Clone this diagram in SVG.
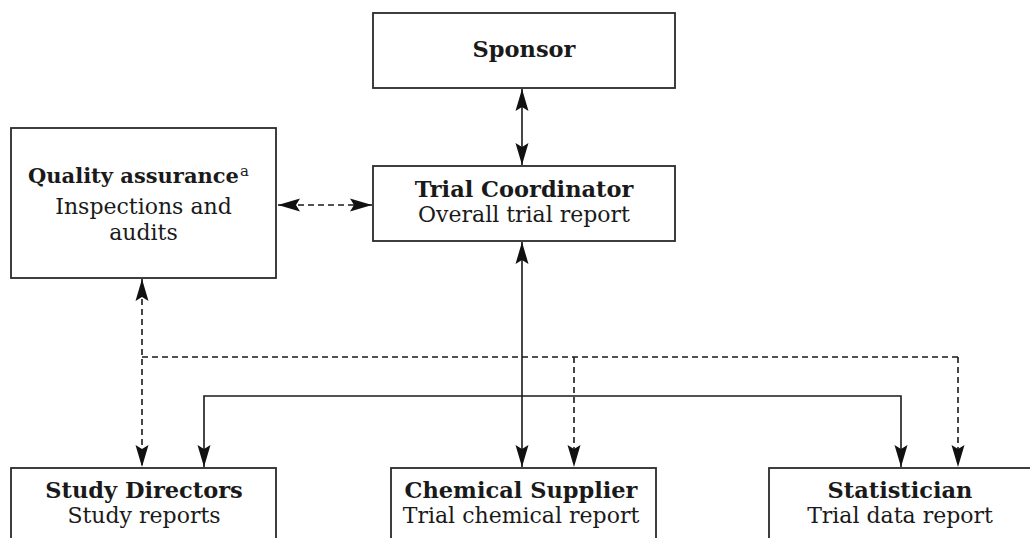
<svg xmlns="http://www.w3.org/2000/svg" width="1030" height="538" viewBox="0 0 1030 538">
<style>
.box{fill:#fff;stroke:#2a2a2a;stroke-width:1.8}
.t{font-family:"DejaVu Serif","Liberation Serif",serif;font-size:22px;fill:#1a1a1a;text-anchor:middle}
.b{font-weight:bold;font-size:22.5px}
.ln{fill:none;stroke:#1a1a1a;stroke-width:1.6}
.d{stroke-dasharray:6,4}
</style>
<defs>
<marker id="ah" markerUnits="userSpaceOnUse" viewBox="-23 -8 24 16" refX="0" refY="0" markerWidth="24" markerHeight="16" orient="auto-start-reverse">
<path d="M0,0 L-22,-6.5 L-18,0 L-22,6.5 Z" fill="#111"/>
</marker>
</defs>
<rect width="1030" height="538" fill="#fff"/>
<g id="connectors">
<line class="ln" x1="522" y1="89" x2="522" y2="165" marker-start="url(#ah)" marker-end="url(#ah)"/>
<line class="ln d" x1="278" y1="205" x2="372" y2="205" marker-start="url(#ah)" marker-end="url(#ah)"/>
<line class="ln d" x1="142" y1="279" x2="142" y2="467" marker-start="url(#ah)" marker-end="url(#ah)"/>
<line class="ln d" x1="142" y1="357" x2="958" y2="357"/>
<line class="ln d" x1="574" y1="357" x2="574" y2="467" marker-end="url(#ah)"/>
<line class="ln d" x1="958" y1="357" x2="958" y2="467" marker-end="url(#ah)"/>
<line class="ln" x1="522" y1="242" x2="522" y2="467" marker-start="url(#ah)" marker-end="url(#ah)"/>
<path class="ln" d="M204,467 L204,396 L901,396 L901,467" marker-start="url(#ah)" marker-end="url(#ah)"/>
</g>
<g id="sponsor">
<rect class="box" x="373" y="13" width="302" height="75"/>
<text class="t b" x="524" y="57">Sponsor</text>
</g>
<g id="trial-coordinator">
<rect class="box" x="373" y="166" width="302" height="75"/>
<text class="t b" x="524" y="197">Trial Coordinator</text>
<text class="t" x="524" y="222">Overall trial report</text>
</g>
<g id="quality-assurance">
<rect class="box" x="11" y="128" width="265" height="150"/>
<text class="t b" x="28" y="183" style="text-anchor:start;font-size:21px">Quality assurance<tspan font-size="15" font-weight="normal" dy="-7" dx="1">a</tspan></text>
<text class="t" x="143.5" y="214">Inspections and</text>
<text class="t" x="143.5" y="240">audits</text>
</g>
<g id="study-directors">
<rect class="box" x="11" y="468" width="265" height="80"/>
<text class="t b" x="144" y="498">Study Directors</text>
<text class="t" x="144" y="523">Study reports</text>
</g>
<g id="chemical-supplier">
<rect class="box" x="391" y="468" width="265" height="80"/>
<text class="t b" x="521" y="498">Chemical Supplier</text>
<text class="t" x="521" y="523">Trial chemical report</text>
</g>
<g id="statistician">
<rect class="box" x="769" y="468" width="275" height="80"/>
<text class="t b" x="900" y="498">Statistician</text>
<text class="t" x="900" y="523">Trial data report</text>
</g>
</svg>
